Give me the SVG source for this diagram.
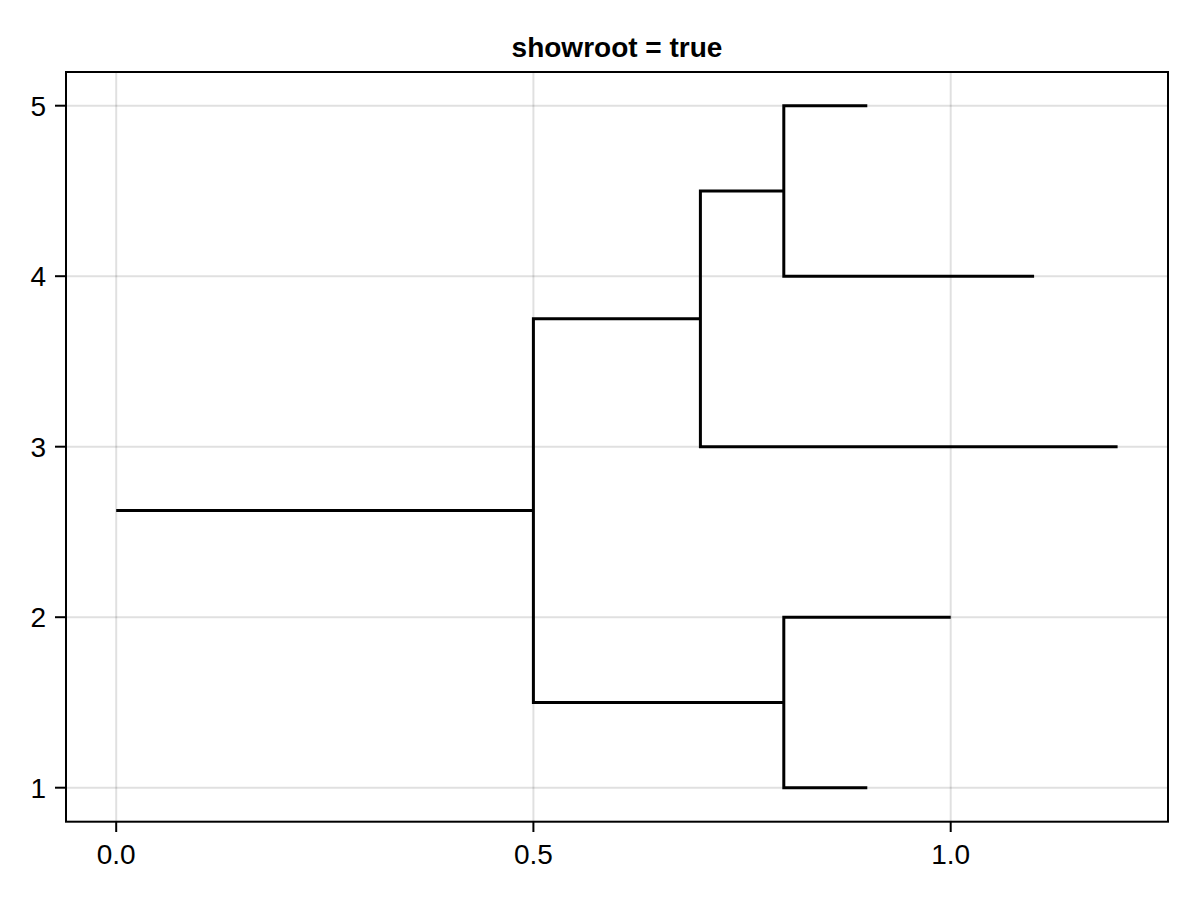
<svg xmlns="http://www.w3.org/2000/svg" width="1200" height="900" viewBox="0 0 1200 900">
<style>
.grid{stroke:#000;stroke-opacity:0.12;stroke-width:2;fill:none}
.frame{stroke:#000;stroke-width:2;fill:none}
.tick{stroke:#000;stroke-width:2}
.tl{font-family:"Liberation Sans",Arial,sans-serif;font-size:28px;fill:#000}
.title{font-family:"Liberation Sans",Arial,sans-serif;font-size:28px;font-weight:bold;fill:#000}
.edge{stroke:#000;stroke-width:3;fill:none;stroke-linejoin:miter}
</style>
<rect x="0" y="0" width="1200" height="900" fill="#fff"/>
<g id="grid">
<line class="grid" x1="116.2" y1="72" x2="116.2" y2="821.7"/>
<line class="grid" x1="533.4" y1="72" x2="533.4" y2="821.7"/>
<line class="grid" x1="950.7" y1="72" x2="950.7" y2="821.7"/>
<line class="grid" x1="66" y1="787.7" x2="1168" y2="787.7"/>
<line class="grid" x1="66" y1="617.2" x2="1168" y2="617.2"/>
<line class="grid" x1="66" y1="446.7" x2="1168" y2="446.7"/>
<line class="grid" x1="66" y1="276.2" x2="1168" y2="276.2"/>
<line class="grid" x1="66" y1="105.7" x2="1168" y2="105.7"/>
</g>
<g id="connectors">
<path class="edge" d="M116.2,510.6 H533.4"/>
<path class="edge" d="M700.4,318.8 H533.4 V702.5 H783.8"/>
<path class="edge" d="M1117.6,446.7 H700.4 V190.9 H783.8"/>
<path class="edge" d="M867.3,105.7 H783.8 V276.2 H1034.1"/>
<path class="edge" d="M950.7,617.2 H783.8 V787.7 H867.3"/>
</g>
<g id="axes">
<rect class="frame" x="66" y="72" width="1102" height="749.7"/>
<line class="tick" x1="55" y1="787.7" x2="66" y2="787.7"/>
<line class="tick" x1="55" y1="617.2" x2="66" y2="617.2"/>
<line class="tick" x1="55" y1="446.7" x2="66" y2="446.7"/>
<line class="tick" x1="55" y1="276.2" x2="66" y2="276.2"/>
<line class="tick" x1="55" y1="105.7" x2="66" y2="105.7"/>
<line class="tick" x1="116.2" y1="821.7" x2="116.2" y2="832"/>
<line class="tick" x1="533.4" y1="821.7" x2="533.4" y2="832"/>
<line class="tick" x1="950.7" y1="821.7" x2="950.7" y2="832"/>
<text class="tl" x="46" y="797.7" text-anchor="end">1</text>
<text class="tl" x="46" y="627.2" text-anchor="end">2</text>
<text class="tl" x="46" y="456.7" text-anchor="end">3</text>
<text class="tl" x="46" y="286.2" text-anchor="end">4</text>
<text class="tl" x="46" y="115.7" text-anchor="end">5</text>
<text class="tl" x="116.2" y="864" text-anchor="middle">0.0</text>
<text class="tl" x="533.4" y="864" text-anchor="middle">0.5</text>
<text class="tl" x="950.7" y="864" text-anchor="middle">1.0</text>
<text class="title" x="617" y="57" text-anchor="middle">showroot = true</text>
</g>
</svg>
